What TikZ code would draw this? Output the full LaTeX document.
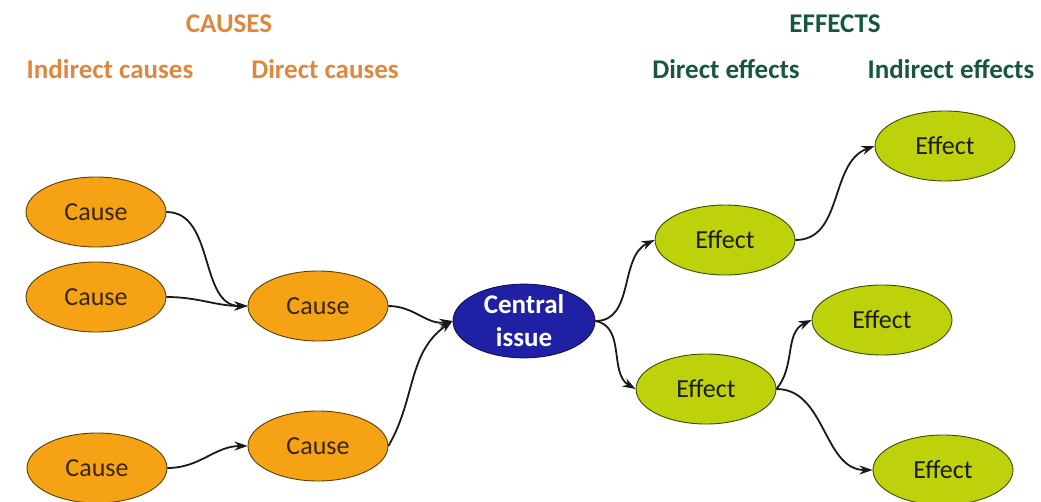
\documentclass[tikz,border=0pt]{standalone}
\usepackage{fontspec}
\setmainfont{Carlito}
\usetikzlibrary{arrows.meta,shapes.geometric}

\definecolor{causefill}{HTML}{F5A314}
\definecolor{causeline}{HTML}{5A3E0A}
\definecolor{causetext}{HTML}{3A2608}
\definecolor{effectfill}{HTML}{BDD20A}
\definecolor{effectline}{HTML}{3F4A05}
\definecolor{effecttext}{HTML}{1C1C10}
\definecolor{issuefill}{HTML}{2020A4}
\definecolor{issueline}{HTML}{10105A}
\definecolor{causehead}{HTML}{DE873E}
\definecolor{effecthead}{HTML}{17583C}

\begin{document}
\begin{tikzpicture}[x=1pt,y=1pt,
  bubble/.style={ellipse, minimum width=140pt, minimum height=70pt,
                 inner sep=0pt, line width=0.9pt},
  causenode/.style={bubble, fill=causefill, draw=causeline, text=causetext,
                    font=\fontsize{26}{30}\selectfont},
  effectnode/.style={bubble, fill=effectfill, draw=effectline, text=effecttext,
                     font=\fontsize{26}{30}\selectfont},
  issuenode/.style={bubble, minimum width=142pt, minimum height=68pt,
                    fill=issuefill, draw=issueline, text=white, align=center,
                    font=\bfseries\fontsize{27}{33}\selectfont},
  head/.style={font=\bfseries\fontsize{27}{32}\selectfont, inner sep=0pt},
  conn/.style={line width=1.8pt, draw=black!90,
               -{Stealth[length=13pt,width=9pt]}}
]
\useasboundingbox (0,0) rectangle (1041,-501);

% column headings
\node[head, text=causehead] (hcauses) at (229,-24) {CAUSES};
\node[head, text=causehead] (hind) at (110,-69) {Indirect causes};
\node[head, text=causehead] (hdir) at (325,-69) {Direct causes};
\node[head, text=effecthead] (heffects) at (835,-24) {EFFECTS};
\node[head, text=effecthead] (hdeff) at (726,-69) {Direct effects};
\node[head, text=effecthead] (hieff) at (951,-69) {Indirect effects};

% causes
\node[causenode] (c1) at (96,-212) {Cause};
\node[causenode] (c2) at (96,-297) {Cause};
\node[causenode] (c3) at (318,-306) {Cause};
\node[causenode] (c4) at (97,-468) {Cause};
\node[causenode] (c5) at (318,-446) {Cause};

% central issue
\node[issuenode] (issue) at (524,-321) {Central\\issue};

% effects
\node[effectnode] (e1) at (725,-240) {Effect};
\node[effectnode] (e2) at (706,-389) {Effect};
\node[effectnode] (e3) at (945,-146) {Effect};
\node[effectnode] (e4) at (882,-320) {Effect};
\node[effectnode] (e5) at (943,-470) {Effect};

% connectors
\draw[conn] (c1.east) to[out=0,in=180] (c3.west);
\draw[conn] (c2.east) to[out=0,in=180] (c3.west);
\draw[conn] (c4.east) to[out=0,in=180] (c5.west);
\draw[conn] (c3.east) to[out=0,in=190] (issue.west);
\draw[conn] (c5.east) to[out=60,in=215] (issue.west);
\draw[conn] (issue.east) to[out=0,in=205] (e1.west);
\draw[conn] (issue.east) to[out=-10,in=150] (e2.west);
\draw[conn] (e1.east) to[out=0,in=200] (e3.west);
\draw[conn] (e2.east) to[out=50,in=205] (e4.west);
\draw[conn] (e2.east) to[out=0,in=180] (e5.west);
\end{tikzpicture}
\end{document}
